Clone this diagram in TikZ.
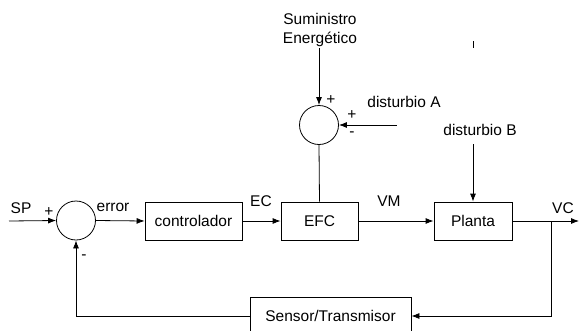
\documentclass[tikz,border=0pt]{standalone}
\usepackage{fontspec}
\setmainfont{Liberation Sans}
\usetikzlibrary{arrows.meta,positioning,calc}

\begin{document}
\begin{tikzpicture}[
  x=1pt, y=-1pt,
  font=\fontsize{15.5}{19}\selectfont,
  >={Latex[length=8pt,width=6pt]},
  block/.style={
    draw,
    minimum height=38pt,
    inner sep=0pt,
    align=center,
    line width=0.8pt
  },
  sumnode/.style={
    draw,
    circle,
    minimum size=39pt,
    inner sep=0pt,
    line width=0.8pt
  },
  arrow/.style={->, line width=0.8pt},
  line/.style={line width=0.8pt},
  label/.style={inner sep=1pt},
  sign/.style={inner sep=0pt}
]
\useasboundingbox (0,0) rectangle (579,330);

% Main loop blocks
\node[sumnode] (sum1) at (76,220.5) {};
\node[block, minimum width=97pt] (ctrl) at (193.5,221) {controlador};
\node[block, minimum width=77pt] (efc) at (319.5,221) {EFC};
\node[block, minimum width=78pt] (planta) at (473,221) {Planta};
\node[block, minimum width=161pt] (sensor) at (330.5,316) {Sensor/Transmisor};

% Energy supply summing junction
\node[sumnode] (sum2) at (319,125) {};
\node[label, align=center] (supply) at (320,30) {Suministro\\Energético};
\node[label] (distA) at (404,102) {disturbio A};
\node[label] (distB) at (480,130) {disturbio B};

% Free ends
\coordinate (sp) at (9,221);
\coordinate (sup) at (319,48);
\coordinate (dA) at ($(sum2.east)+(58,0)$);
\coordinate (dB) at (473,144);
\coordinate (out) at (579,221);
\coordinate (br) at (551,221);

% Signal labels
\node[label] at (21,208) {SP};
\node[label] at (113,207) {error};
\node[label] at (261,201) {EC};
\node[label] at (389,201) {VM};
\node[label] at (563,208) {VC};

% Signs
\node[sign] at (49,212) {+};
\node[sign] at (84,257) {-};
\node[sign] at (331,100) {+};
\node[sign] at (352,115) {+};
\node[sign] at (352,134) {-};

% Forward path
\draw[arrow] (sp) -- (sum1.west);
\draw[arrow] (sum1.east) -- (ctrl.west);
\draw[arrow] (ctrl.east) -- (efc.west);
\draw[arrow] (efc.east) -- (planta.west);
\draw[arrow] (planta.east) -- (out);

% Feedback path
\draw[arrow] (br) |- (sensor.east);
\draw[arrow] (sensor.west) -| (sum1.south);

% Supply and disturbances
\draw[arrow] (sup) -- (sum2.north);
\draw[arrow] (dA) -- (sum2.east);
\draw[line] (sum2.south) -- (efc.north);
\draw[arrow] (dB) -- (planta.north);
\draw[line] (473,41) -- (473,48);

\end{tikzpicture}
\end{document}
